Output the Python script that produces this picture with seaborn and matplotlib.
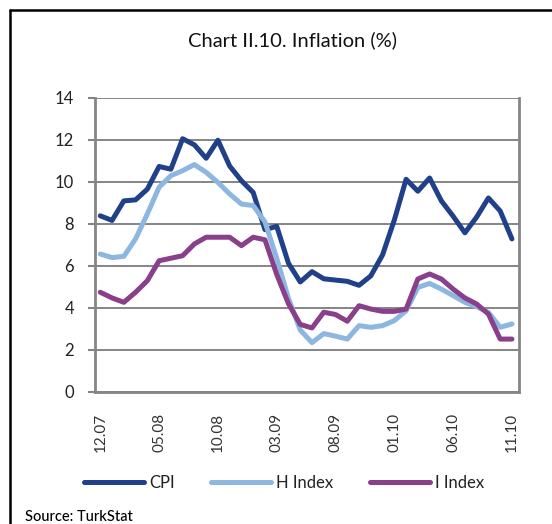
import matplotlib
matplotlib.use("Agg")
import matplotlib.pyplot as plt
import seaborn as sns
import pandas as pd
from matplotlib.lines import Line2D

months = ["12.07", "01.08", "02.08", "03.08", "04.08", "05.08", "06.08", "07.08", "08.08",
          "09.08", "10.08", "11.08", "12.08", "01.09", "02.09", "03.09", "04.09", "05.09",
          "06.09", "07.09", "08.09", "09.09", "10.09", "11.09", "12.09", "01.10", "02.10",
          "03.10", "04.10", "05.10", "06.10", "07.10", "08.10", "09.10", "10.10", "11.10"]

cpi = [8.39, 8.17, 9.10, 9.15, 9.66, 10.74, 10.61, 12.06, 11.77, 11.13, 11.99, 10.76,
       10.06, 9.50, 7.73, 7.89, 6.13, 5.24, 5.73, 5.39, 5.33, 5.27, 5.08, 5.53,
       6.53, 8.19, 10.13, 9.56, 10.19, 9.10, 8.37, 7.58, 8.33, 9.24, 8.62, 7.29]

h_index = [6.57, 6.40, 6.46, 7.29, 8.48, 9.75, 10.30, 10.54, 10.83, 10.46, 9.98, 9.43,
           8.95, 8.88, 8.10, 6.37, 4.46, 2.95, 2.35, 2.78, 2.66, 2.52, 3.16, 3.08,
           3.16, 3.40, 3.87, 4.98, 5.17, 4.90, 4.59, 4.27, 4.06, 3.79, 3.08, 3.24]

i_index = [4.75, 4.48, 4.27, 4.75, 5.30, 6.25, 6.37, 6.49, 7.05, 7.37, 7.37, 7.37,
           6.97, 7.37, 7.25, 5.60, 4.20, 3.22, 3.05, 3.80, 3.69, 3.37, 4.11, 3.95,
           3.84, 3.84, 3.95, 5.38, 5.62, 5.38, 4.90, 4.48, 4.19, 3.71, 2.52, 2.52]

series_names = ["CPI", "H Index", "I Index"]
colors = ["#21408A", "#8DB6E0", "#8A3F8A"]

rows = []
for name, vals in zip(series_names, [cpi, h_index, i_index]):
    for k, v in enumerate(vals):
        rows.append({"idx": k, "value": v, "series": name})
df = pd.DataFrame(rows)

sns.set_style("white")
plt.rcParams['font.family'] = ['Lato', 'DejaVu Sans']

fig = plt.figure(figsize=(5.52, 5.24), dpi=100)
ax = fig.add_axes([95/552, 1-392/524, (519-95)/552, (392-98)/524])

sns.lineplot(data=df, x="idx", y="value", hue="series", hue_order=series_names,
             palette=colors, linewidth=3.6, ax=ax, legend=False, zorder=3)

ax.set_xlim(-0.45, 35.6)
ax.set_ylim(0, 14)
ax.set_yticks(range(0, 15, 2))
ax.set_xticks(range(0, 36, 5))
ax.set_xticklabels([months[k] for k in range(0, 36, 5)], rotation=90)
ax.set_xlabel("")
ax.set_ylabel("")

gray = "#858585"
ax.grid(axis="y", color=gray, linewidth=1.4, zorder=1)
ax.grid(axis="x", visible=False)
for s in ["left", "bottom", "right"]:
    ax.spines[s].set_visible(True)
    ax.spines[s].set_color(gray)
    ax.spines[s].set_linewidth(2)
ax.spines["top"].set_visible(False)

ax.tick_params(axis="y", which="both", left=True, length=5, width=1.5, color=gray,
               pad=10, labelsize=12, labelcolor="#222222")
ax.tick_params(axis="x", length=0, pad=15, labelsize=11, labelcolor="#333333")

fig.text(292/552, 1-40/524, "Chart II.10. Inflation (%)", ha="center", va="center",
         fontsize=14.5, color="#111111")

handles = [Line2D([0], [0], color=c, linewidth=3.6) for c in colors]
fig.legend(handles, series_names, loc="center", bbox_to_anchor=(284/552, 1-483/524),
           ncol=3, frameon=False, fontsize=12, handlelength=3.6, handletextpad=0.3,
           columnspacing=2.2, labelcolor="#222222")

fig.text(25/552, 1-517/524, "Source: TurkStat", ha="left", va="center",
         fontsize=10.5, color="#000000", fontweight="medium")

fig.add_artist(Line2D([10/552, 10/552], [0, 1-10/524], color="black", linewidth=1.8,
                      transform=fig.transFigure))
fig.add_artist(Line2D([10/552, 1], [1-10/524, 1-10/524], color="black", linewidth=1.8,
                      transform=fig.transFigure))

fig.savefig("out.png", dpi=100)
